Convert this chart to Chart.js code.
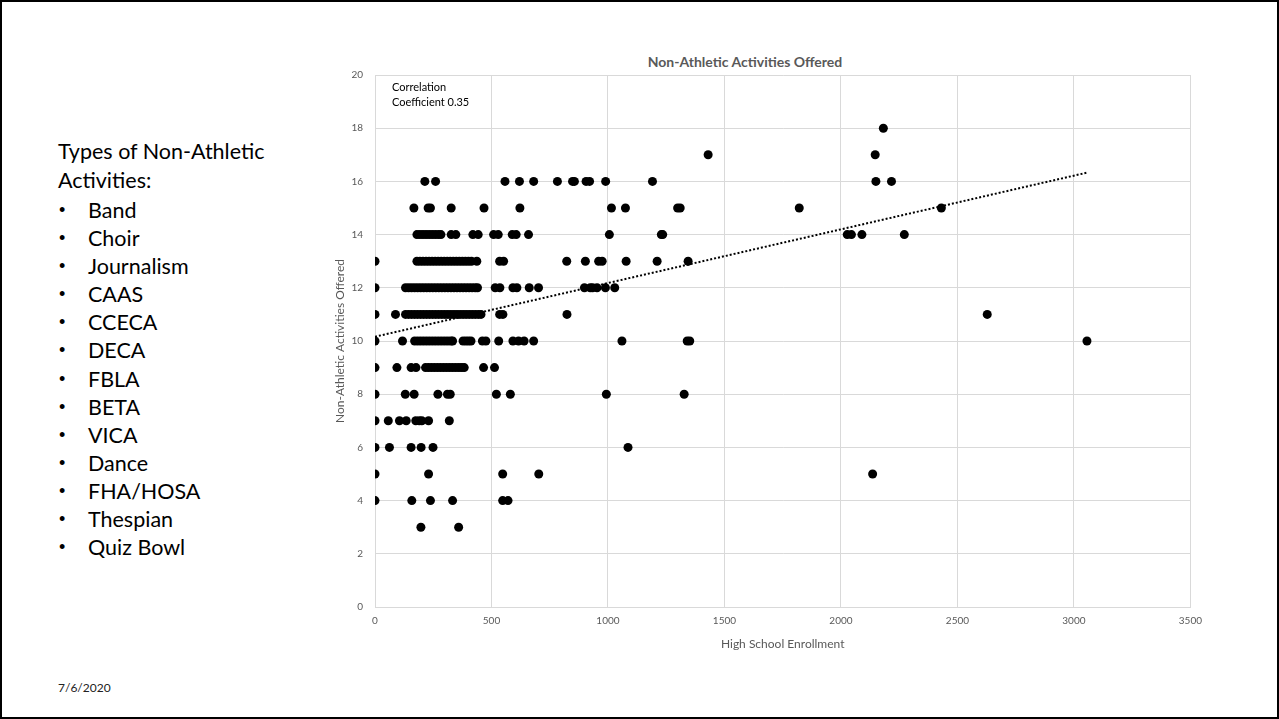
<!DOCTYPE html>
<html>
<head>
<meta charset="utf-8">
<script src="https://cdn.jsdelivr.net/npm/chart.js@4.4.1/dist/chart.umd.min.js"></script>
<style>
  html, body { margin: 0; padding: 0; background: #fff; }
  #slide {
    position: relative; width: 1279px; height: 719px; box-sizing: border-box;
    border: 2px solid #000; font-family: Lato, "Open Sans", sans-serif; overflow: hidden;
  }
  #side { position: absolute; left: 56px; top: 135px; font-size: 21.5px; line-height: 29px; color: #000; }
  #side ul { list-style: none; margin: 1px 0 0 0; padding: 0; line-height: 28.1px; }
  #side li { position: relative; padding-left: 30px; }
  #side li::before { content: "\2022"; position: absolute; left: 1px; font-family: "Liberation Sans", sans-serif; font-size: 18px; }
  #date { position: absolute; left: 56px; top: 678px; font-size: 12px; color: #222; }
  #note { position: absolute; left: 390px; top: 77px; font-size: 11px; line-height: 15px; color: #000; }
  #title {
    position: absolute; left: 543px; width: 400px; top: 51px; text-align: center;
    font-size: 14px; line-height: 17px; font-weight: bold; color: #595959;
  }
  #wrap { position: absolute; left: 298px; top: 40px; width: 910px; height: 612px; }
</style>
</head>
<body>
<div id="slide">
  <div id="side">
    <div>Types of Non-Athletic</div>
    <div>Activities:</div>
    <ul>
      <li>Band</li><li>Choir</li><li>Journalism</li><li>CAAS</li><li>CCECA</li><li>DECA</li>
      <li>FBLA</li><li>BETA</li><li>VICA</li><li>Dance</li><li>FHA/HOSA</li><li>Thespian</li><li>Quiz Bowl</li>
    </ul>
  </div>
  <div id="date">7/6/2020</div>
  <div id="title">Non-Athletic Activities Offered</div>
  <div id="wrap"><canvas id="chart"></canvas></div>
  <div id="note">Correlation<br>Coefficient 0.35</div>
</div>
<script>
// enrollment of each school, grouped by number of activities offered
const activityLevels = [3, 4, 5, 6, 7, 8, 9, 10, 11, 12, 13, 14, 15, 16, 17, 18];
const enroll3 = [197, 359];
const enroll4 = [0, 158, 238, 333, 548, 571];
const enroll5 = [0, 230, 548, 703, 2136];
const enroll6 = [0, 62, 155, 198, 249, 1086];
const enroll7 = [0, 57, 105, 134, 175, 190, 201, 230, 319];
const enroll8 = [0, 130, 168, 270, 311, 323, 521, 581, 993, 1327];
const enroll9 = [0, 94, 155, 176, 217, 230, 243, 256, 269, 282, 295, 308, 321, 334, 347, 360, 372, 383, 466, 513];
const enroll10 = [0, 118, 170, 183, 196, 209, 222, 235, 248, 261, 274, 287, 300, 313, 326, 333, 378, 390, 401, 412,
  461, 476, 531, 592, 616, 640, 681, 1060, 1340, 1351, 3056];
const enroll11 = [0, 88, 131, 144, 157, 170, 183, 196, 209, 222, 235, 248, 261, 274, 287, 300, 313, 326, 339, 352,
  365, 378, 391, 404, 417, 430, 443, 455, 535, 549, 824, 2628];
const enroll12 = [0, 131, 144, 157, 170, 183, 196, 209, 222, 235, 248, 261, 274, 287, 300, 313, 326, 339, 352, 365,
  378, 391, 404, 417, 430, 440, 516, 536, 592, 609, 662, 702, 899, 924, 934, 953, 989, 1029];
const enroll13 = [0, 180, 193, 206, 219, 232, 245, 258, 271, 284, 297, 310, 323, 336, 349, 362, 375, 388, 401, 414,
  437, 535, 552, 823, 903, 960, 975, 1078, 1211, 1344];
const enroll14 = [180, 193, 206, 219, 232, 245, 258, 271, 283, 327, 347, 420, 443, 509, 529, 589, 606, 659,
  1006, 1229, 1235, 2027, 2045, 2090, 2272];
const enroll15 = [167, 228, 238, 327, 468, 622, 1015, 1075, 1299, 1310, 1821, 2431];
const enroll16 = [214, 260, 558, 620, 681, 783, 848, 856, 906, 921, 990, 1191, 2150, 2217];
const enroll17 = [1430, 2147];
const enroll18 = [2182];

const enrollByLevel = [enroll3, enroll4, enroll5, enroll6, enroll7, enroll8, enroll9, enroll10,
  enroll11, enroll12, enroll13, enroll14, enroll15, enroll16, enroll17, enroll18];

// dotted linear trendline as drawn in the picture
const trendX = [0, 3056];
const trendY = [10.16, 16.33];

const xTicks = [0, 500, 1000, 1500, 2000, 2500, 3000, 3500];
const yTicks = [0, 2, 4, 6, 8, 10, 12, 14, 16, 18, 20];

// build points
let points = [];
enrollByLevel.forEach((list, i) => {
  list.forEach(e => points.push({ x: e, y: activityLevels[i] }));
});
let trend = trendX.map((x, i) => ({ x: x, y: trendY[i] }));

const gridColor = "#d9d9d9";
const textColor = "#595959";

new Chart(document.getElementById("chart"), {
  type: "scatter",
  data: {
    datasets: [
      {
        data: points,
        backgroundColor: "#000",
        borderWidth: 0,
        pointRadius: 4.5
      },
      {
        type: "line",
        data: trend,
        borderColor: "#000",
        borderWidth: 2,
        borderDash: [2, 2],
        pointRadius: 0,
        fill: false
      }
    ]
  },
  options: {
    responsive: true,
    maintainAspectRatio: false,
    animation: false,
    layout: { padding: { top: 33 } },
    plugins: {
      legend: { display: false },
      tooltip: { enabled: false },
      title: { display: false }
    },
    scales: {
      x: {
        type: "linear",
        min: 0,
        max: 3500,
        afterBuildTicks: s => { s.ticks = xTicks.map(v => ({ value: v })); },
        afterFit: s => { s.height = 47; },
        grid: { color: gridColor, drawTicks: false },
        border: { color: gridColor },
        ticks: {
          color: textColor,
          font: { family: "Lato", size: 10 },
          padding: 8,
          callback: v => String(v)
        },
        title: {
          display: true,
          text: "High School Enrollment",
          color: textColor,
          font: { family: "Lato", size: 12 },
          padding: { top: 4, bottom: 3 }
        }
      },
      y: {
        min: 0,
        max: 20,
        afterBuildTicks: s => { s.ticks = yTicks.map(v => ({ value: v })); },
        afterFit: s => { s.width = 75; },
        grid: { color: gridColor, drawTicks: false },
        border: { color: gridColor },
        ticks: { color: textColor, font: { family: "Lato", size: 10 }, padding: 12 },
        title: {
          display: true,
          text: "Non-Athletic Activities Offered",
          color: textColor,
          font: { family: "Lato", size: 12 },
          padding: { top: 33, bottom: 4 }
        }
      }
    }
  }
});
</script>
</body>
</html>
